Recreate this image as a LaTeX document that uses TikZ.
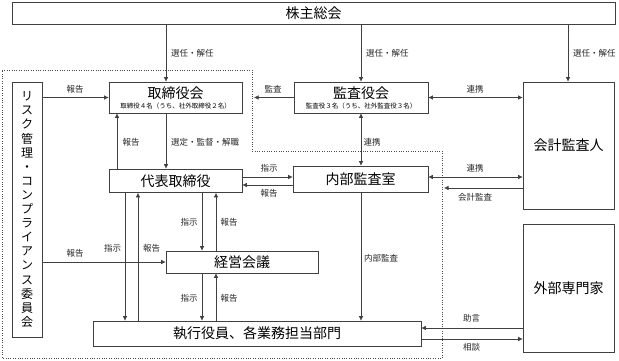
\documentclass[tikz,border=0pt]{standalone}
\usepackage{fontspec}
\setmainfont{Noto Sans CJK JP}
\usetikzlibrary{arrows.meta}

\tikzset{
  box/.style={draw=black!75, line width=0.6pt, inner sep=0pt, align=center},
  big/.style={font=\fontsize{14}{16}\selectfont},
  lbl/.style={font=\fontsize{8.5}{9}\selectfont, inner sep=0pt, text=black!85},
  arr/.style={draw=black!75, line width=0.6pt, -{Latex[length=4.5pt,width=4.5pt]}},
  darr/.style={arr, {Latex[length=4.5pt,width=4.5pt]}-{Latex[length=4.5pt,width=4.5pt]}},
}

\newcommand{\subtxt}[1]{{\fontsize{6.5}{7}\selectfont #1}}

\begin{document}
\begin{tikzpicture}[x=1pt,y=-1pt]
\useasboundingbox (0,0) rectangle (619,360);

% Dotted area
\draw[dotted, black!70] (2,70) -- (252,70) -- (252,151) -- (442,151) -- (442,358) -- (2,358) -- cycle;

% Boxes
\node[box, big, minimum width=603, minimum height=22] (kabu) at (313.5,13) {株主総会};
\node[box, minimum width=30, minimum height=255, font=\fontsize{12}{14.1}\selectfont] (risk) at (27,209.5)
  {リ\\ス\\ク\\管\\理\\・\\コ\\ン\\プ\\ラ\\イ\\ア\\ン\\ス\\委\\員\\会};
\node[box, minimum width=133, minimum height=31] (tori) at (175.5,97.5)
  {{\fontsize{14}{15}\selectfont 取締役会}\\[-2pt]\subtxt{取締役４名（うち、社外取締役２名）}};
\node[box, minimum width=134, minimum height=31] (kansa) at (361,97.5)
  {{\fontsize{14}{15}\selectfont 監査役会}\\[-2pt]\subtxt{監査役３名（うち、社外監査役３名）}};
\node[box, big, minimum width=91, minimum height=127] (kaikei) at (568.5,145.5) {会計監査人};
\node[box, big, minimum width=133, minimum height=23.5] (daihyo) at (175.5,180.75) {代表取締役};
\node[box, big, minimum width=135, minimum height=26] (naibu) at (360.5,179) {内部監査室};
\node[box, big, minimum width=152, minimum height=22] (keiei) at (242,262) {経営会議};
\node[box, big, minimum width=328, minimum height=25] (shikko) at (257,333.5) {執行役員、各業務担当部門};
\node[box, big, minimum width=91, minimum height=128] (gaibu) at (568.5,288) {外部専門家};

% Columns and rows of the connectors
\coordinate (xa) at (117,0);
\coordinate (xb) at (166,0);
\coordinate (xc) at (125,0);
\coordinate (xd) at (138,0);
\coordinate (xe) at (202,0);
\coordinate (xf) at (216,0);
\coordinate (xg) at (361,0);
\coordinate (xh) at (568,0);
\coordinate (ya) at (0,177);
\coordinate (yb) at (0,185);
\coordinate (yc) at (0,188);
\coordinate (yd) at (0,328);
\coordinate (ye) at (0,339);
\coordinate (dl) at (254,97.5);
\coordinate (dr) at (444,188);

% From the shareholders
\draw[arr] (kabu.south -| xb) -- (tori.north -| xb);
\draw[arr] (kabu.south -| xg) -- (kansa.north -| xg);
\draw[arr] (kabu.south -| xh) -- (kaikei.north -| xh);
\node[lbl, anchor=west] (l1) at (171,53) {選任・解任};
\node[lbl, anchor=west] (l2) at (366,53) {選任・解任};
\node[lbl, anchor=west] (l3) at (573,53) {選任・解任};

% Top row
\draw[arr] (risk.east |- tori.west) -- (tori.west);
\draw[arr] (kansa.west) -- (dl);
\draw[darr] (kansa.east) -- (kaikei.west |- kansa.east);
\node[lbl] (l4) at (75,89) {報告};
\node[lbl] (l5) at (273,89) {監査};
\node[lbl] (l6) at (475,89) {連携};

% Board and representative director
\draw[arr] (daihyo.north -| xa) -- (tori.south -| xa);
\draw[arr] (tori.south -| xb) -- (daihyo.north -| xb);
\draw[darr] (kansa.south -| xg) -- (naibu.north -| xg);
\node[lbl] (l7) at (131,142) {報告};
\node[lbl, anchor=west] (l8) at (171,142) {選定・監督・解職};
\node[lbl] (l9) at (372,142) {連携};

% Middle row
\draw[arr] (daihyo.east |- ya) -- (naibu.west |- ya);
\draw[arr] (naibu.west |- yb) -- (daihyo.east |- yb);
\draw[darr] (naibu.east |- ya) -- (kaikei.west |- ya);
\draw[arr] (kaikei.west |- yc) -- (dr);
\node[lbl] (l10) at (269,168) {指示};
\node[lbl] (l11) at (269,193) {報告};
\node[lbl] (l12) at (475,168) {連携};
\node[lbl] (l13) at (475,197) {会計監査};

% Down to the departments
\draw[arr] (daihyo.south -| xc) -- (shikko.north -| xc);
\draw[arr] (shikko.north -| xd) -- (daihyo.south -| xd);
\draw[arr] (daihyo.south -| xe) -- (keiei.north -| xe);
\draw[arr] (keiei.north -| xf) -- (daihyo.south -| xf);
\draw[arr] (keiei.south -| xe) -- (shikko.north -| xe);
\draw[arr] (shikko.north -| xf) -- (keiei.south -| xf);
\draw[arr] (risk.east |- keiei.west) -- (keiei.west);
\draw[arr] (naibu.south -| xg) -- (shikko.north -| xg);
\node[lbl] (l14) at (112.5,248) {指示};
\node[lbl] (l15) at (151.5,248) {報告};
\node[lbl] (l16) at (75,253) {報告};
\node[lbl] (l17) at (189,222) {指示};
\node[lbl] (l18) at (229,222) {報告};
\node[lbl] (l19) at (189,298) {指示};
\node[lbl] (l20) at (229,298) {報告};
\node[lbl, anchor=west] (l21) at (364,258) {内部監査};

% External experts
\draw[arr] (gaibu.west |- yd) -- (shikko.east |- yd);
\draw[arr] (shikko.east |- ye) -- (gaibu.west |- ye);
\node[lbl] (l22) at (471.5,318) {助言};
\node[lbl] (l23) at (471.5,347) {相談};

\end{tikzpicture}
\end{document}
